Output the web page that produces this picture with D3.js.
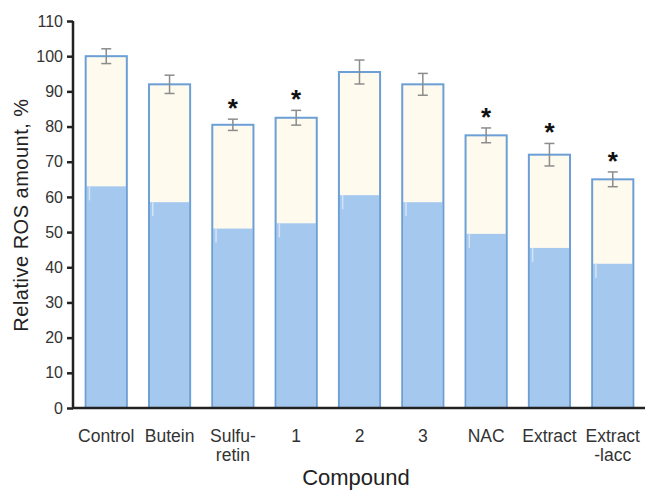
<!DOCTYPE html>
<html>
<head>
<meta charset="utf-8">
<script src="https://cdn.jsdelivr.net/npm/d3@7"></script>
<style>
  body { margin: 0; background: #fff; }
  text { font-family: "Liberation Sans", Arial, sans-serif; }
</style>
</head>
<body>
<div id="chart"></div>
<script>
const categories = ['Control', 'Butein', 'Sulfu-\nretin', '1', '2', '3', 'NAC', 'Extract', 'Extract\n-lacc'];
const values = [100, 92, 80.5, 82.5, 95.5, 92, 77.5, 72, 65];
const errors = [2.1, 2.6, 1.6, 2.1, 3.4, 3.1, 2.1, 3.2, 2.1];
const innerValues = [63, 58.5, 51, 52.5, 60.5, 58.5, 49.5, 45.5, 41];
const significant = [false, false, true, true, false, false, true, true, true];
const yTicks = d3.range(0, 111, 10);

const W = 653, H = 490;
const svg = d3.select('#chart').append('svg')
  .attr('width', W).attr('height', H);

const x = d3.scaleBand()
  .domain(categories)
  .range([73, 646])
  .paddingInner(0.35)
  .paddingOuter(0.2);

const y = d3.scaleLinear().domain([0, 110]).range([408, 21]);

const bars = svg.append('g').selectAll('g')
  .data(categories.map((c, i) => ({ c, v: values[i], e: errors[i], inner: innerValues[i], sig: significant[i] })))
  .join('g');

// cream top part
bars.append('rect')
  .attr('x', d => x(d.c))
  .attr('y', d => y(d.v))
  .attr('width', x.bandwidth())
  .attr('height', d => y(0) - y(d.v))
  .attr('fill', '#fffaee');

// blue lower part
bars.append('rect')
  .attr('x', d => x(d.c) + 1)
  .attr('y', d => y(d.inner))
  .attr('width', x.bandwidth() - 2)
  .attr('height', d => y(0) - y(d.inner))
  .attr('fill', '#a5c8ef');

// faint light streak near the left edge of the blue part
bars.append('rect')
  .attr('x', d => x(d.c) + 3)
  .attr('y', d => y(d.inner))
  .attr('width', 1.5)
  .attr('height', 14)
  .attr('fill', '#d4e4f7');

// outline
bars.append('rect')
  .attr('x', d => x(d.c))
  .attr('y', d => y(d.v))
  .attr('width', x.bandwidth())
  .attr('height', d => y(0) - y(d.v))
  .attr('fill', 'none')
  .attr('stroke', '#6b9fd6')
  .attr('stroke-width', 2);

// error bars
const cx = d => x(d.c) + x.bandwidth() / 2;
bars.append('line')
  .attr('x1', cx).attr('x2', cx)
  .attr('y1', d => y(d.v + d.e)).attr('y2', d => y(d.v - d.e))
  .attr('stroke', '#8c8c8c').attr('stroke-width', 1.5);
bars.append('line')
  .attr('x1', d => cx(d) - 5).attr('x2', d => cx(d) + 5)
  .attr('y1', d => y(d.v + d.e)).attr('y2', d => y(d.v + d.e))
  .attr('stroke', '#8c8c8c').attr('stroke-width', 1.5);
bars.append('line')
  .attr('x1', d => cx(d) - 5).attr('x2', d => cx(d) + 5)
  .attr('y1', d => y(d.v - d.e)).attr('y2', d => y(d.v - d.e))
  .attr('stroke', '#8c8c8c').attr('stroke-width', 1.5);

// asterisks
bars.filter(d => d.sig).append('text')
  .attr('x', cx)
  .attr('y', d => y(d.v + d.e) - 2)
  .attr('text-anchor', 'middle')
  .style('font-size', '26px')
  .style('font-weight', 'bold')
  .attr('fill', '#111')
  .text('*');

// y axis
const yAxis = svg.append('g')
  .attr('transform', 'translate(73,0)')
  .call(d3.axisLeft(y).tickValues(yTicks).tickSize(6).tickPadding(4));
yAxis.select('.domain').attr('stroke', '#222').attr('stroke-width', 2.5).attr('d', 'M0,' + y(110) + 'V' + y(0));
yAxis.selectAll('.tick line').attr('stroke', '#222').attr('stroke-width', 2.5);
yAxis.selectAll('.tick text').attr('fill', '#333').style('font-size', '16px');

// x axis
const xAxis = svg.append('g')
  .attr('transform', 'translate(0,' + y(0) + ')')
  .call(d3.axisBottom(x).tickSize(0).tickPadding(0));
xAxis.select('.domain').attr('stroke', '#222').attr('stroke-width', 2.5).attr('d', 'M72,0H645');
xAxis.selectAll('.tick text').remove();
xAxis.selectAll('.tick').each(function (d) {
  const t = d3.select(this).append('text')
    .attr('fill', '#333')
    .attr('text-anchor', 'middle')
    .style('font-size', '17.5px');
  d.split('\n').forEach((line, i) => {
    t.append('tspan').attr('x', 0).attr('y', 34 + i * 19).text(line);
  });
});

// axis titles
svg.append('text')
  .attr('x', 356).attr('y', 485)
  .attr('text-anchor', 'middle')
  .style('font-size', '22px')
  .attr('fill', '#222')
  .text('Compound');

svg.append('text')
  .attr('transform', 'translate(28,' + 215 + ') rotate(-90)')
  .attr('text-anchor', 'middle')
  .style('font-size', '20px')
  .style('letter-spacing', '0.5px')
  .attr('fill', '#222')
  .text('Relative ROS amount, %');
</script>
</body>
</html>
